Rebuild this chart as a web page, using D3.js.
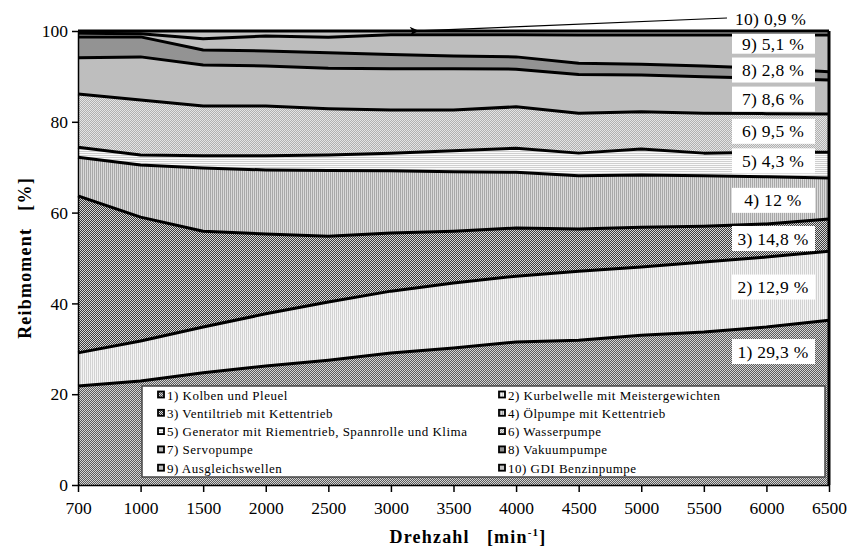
<!DOCTYPE html>
<meta charset="utf-8">
<style>
body { margin: 0; background: #fff; }
svg text { font-family: "Liberation Serif", "Times New Roman", "DejaVu Serif", serif; fill: #000; }
.axis text { font-size: 17.5px; }
.axis path, .axis line { stroke: #000; stroke-width: 1.5; }
.legend text { font-size: 13px; letter-spacing: 0.5px; }
.lbl text { font-size: 17.5px; letter-spacing: 0.3px; }
.title { font-size: 18px; font-weight: bold; letter-spacing: 1.2px; white-space: pre; }
</style>
<svg width="850" height="549"></svg>
<script src="https://d3js.org/d3.v7.min.js"></script>
<script>
// Drehzahl categories
var speeds = ["700", "1000", "1500", "2000", "2500", "3000", "3500", "4000", "4500", "5000", "5500", "6000", "6500"];

// share of friction torque per component [%]
var kolben      = [21.8, 22.9, 24.7, 26.2, 27.5, 29.1, 30.2, 31.5, 31.9, 33.0, 33.7, 34.8, 36.3];
var kurbelwelle = [7.3, 8.8, 10.1, 11.5, 12.8, 13.6, 14.3, 14.5, 15.2, 15.0, 15.4, 15.4, 15.2];
var ventiltrieb = [34.6, 27.3, 21.1, 17.6, 14.5, 12.8, 11.4, 10.6, 9.3, 8.8, 7.9, 7.3, 7.1];
var oelpumpe    = [8.5, 11.5, 13.9, 14.1, 14.5, 13.7, 13.1, 12.3, 11.7, 11.5, 11.1, 10.4, 9.0];
var generator   = [2.2, 2.2, 2.7, 3.1, 3.4, 3.9, 4.6, 5.3, 5.0, 5.7, 5.0, 5.4, 5.7];
var wasserpumpe = [11.7, 12.1, 11.0, 11.0, 10.2, 9.5, 9.0, 9.1, 8.8, 8.2, 8.8, 8.5, 8.4];
var servopumpe  = [8.0, 9.5, 9.0, 8.8, 8.9, 9.1, 9.1, 8.3, 8.5, 8.1, 8.0, 7.8, 7.5];
var vakuumpumpe = [4.6, 4.4, 3.3, 3.3, 3.4, 3.1, 2.8, 2.7, 2.5, 2.4, 2.4, 2.2, 1.8];
var ausgleich   = [0.8, 0.7, 2.5, 3.3, 3.4, 4.4, 4.7, 4.9, 6.2, 6.4, 6.8, 7.3, 8.1];
var gdi         = [0.5, 0.6, 1.7, 1.1, 1.4, 0.8, 0.8, 0.8, 0.9, 0.9, 0.9, 0.9, 0.9];

var legendNames = ["1) Kolben und Pleuel", "2) Kurbelwelle mit Meistergewichten",
  "3) Ventiltrieb mit Kettentrieb", "4) Ölpumpe mit Kettentrieb",
  "5) Generator mit Riementrieb, Spannrolle und Klima", "6) Wasserpumpe",
  "7) Servopumpe", "8) Vakuumpumpe", "9) Ausgleichswellen", "10) GDI Benzinpumpe"];
var shareLabels = ["1) 29,3 %", "2) 12,9 %", "3) 14,8 %", "4) 12 %", "5) 4,3 %",
  "6) 9,5 %", "7) 8,6 %", "8) 2,8 %", "9) 5,1 %"];
var labelPos = [29.4, 43.6, 54.3, 62.7, 71.4, 77.9, 85.0, 91.4, 97.2];
var yTicks = [0, 20, 40, 60, 80, 100];

var seriesValues = [kolben, kurbelwelle, ventiltrieb, oelpumpe, generator,
  wasserpumpe, servopumpe, vakuumpumpe, ausgleich, gdi];
var keys = d3.range(seriesValues.length).map(function(i) { return "s" + i; });
var rows = speeds.map(function(s, j) {
  var r = {speed: s};
  seriesValues.forEach(function(v, i) { r["s" + i] = v[j]; });
  return r;
});

var svg = d3.select("svg"),
    margin = {top: 31, right: 21, bottom: 64, left: 78},
    width = +svg.attr("width") - margin.left - margin.right,
    height = +svg.attr("height") - margin.top - margin.bottom;

// fill patterns
var defs = svg.append("defs");
function checker(id, a, b) {
  var p = defs.append("pattern").attr("id", id).attr("patternUnits", "userSpaceOnUse")
    .attr("width", 2).attr("height", 2);
  p.append("rect").attr("width", 2).attr("height", 2).attr("fill", b);
  p.append("rect").attr("width", 1).attr("height", 1).attr("fill", a);
  p.append("rect").attr("x", 1).attr("y", 1).attr("width", 1).attr("height", 1).attr("fill", a);
}
function stripes(id, a, b, vertical) {
  var p = defs.append("pattern").attr("id", id).attr("patternUnits", "userSpaceOnUse")
    .attr("width", vertical ? 2 : 1).attr("height", vertical ? 1 : 2);
  p.append("rect").attr("width", 2).attr("height", 2).attr("fill", b);
  p.append("rect").attr("width", 1).attr("height", 1).attr("fill", a);
}
checker("p1", "#5a5a5a", "#d4d4d4");
stripes("p2", "#d2d2d2", "#f4f4f4", true);
checker("p3", "#3c3c3c", "#d8d8d8");
stripes("p4", "#a8a8a8", "#dadada", true);
stripes("p5", "#cfcfcf", "#fafafa", false);
checker("p6", "#b0b0b0", "#e4e4e4");
var fills = ["url(#p1)", "url(#p2)", "url(#p3)", "url(#p4)", "url(#p5)", "url(#p6)",
  "#bebebe", "#939393", "#bebebe", "#c4c4c4"];

var x = d3.scalePoint().domain(speeds).range([0, width]),
    y = d3.scaleLinear().domain([0, 100]).range([height, 0]);

var g = svg.append("g")
    .attr("transform", "translate(" + margin.left + "," + margin.top + ")");

var stacked = d3.stack().keys(keys)(rows);

var area = d3.area()
    .x(function(d) { return x(d.data.speed); })
    .y0(function(d) { return y(d[0]); })
    .y1(function(d) { return y(d[1]); });
var line = d3.line()
    .x(function(d) { return x(d.data.speed); })
    .y(function(d) { return y(d[1]); });

g.selectAll(".layer")
  .data(stacked)
  .enter().append("path")
    .attr("class", "layer")
    .attr("fill", function(d, i) { return fills[i]; })
    .attr("d", area);

g.selectAll(".edge")
  .data(stacked)
  .enter().append("path")
    .attr("class", "edge")
    .attr("fill", "none")
    .attr("stroke", "#000")
    .attr("stroke-width", 3)
    .attr("stroke-linejoin", "round")
    .attr("d", line);

// right frame
g.append("line")
    .attr("x1", width).attr("x2", width)
    .attr("y1", y(100)).attr("y2", y(0))
    .attr("stroke", "#000").attr("stroke-width", 3);

// axes
g.append("g")
    .attr("class", "axis axis--x")
    .attr("transform", "translate(0," + height + ")")
    .call(d3.axisBottom(x).tickSize(7).tickSizeOuter(0).tickPadding(10));
g.append("g")
    .attr("class", "axis axis--y")
    .call(d3.axisLeft(y).tickValues(yTicks).tickSize(6).tickSizeOuter(0).tickPadding(4));
g.selectAll(".axis").attr("font-family", null).attr("font-size", null);
g.selectAll(".axis .domain").attr("stroke-width", 2.5);

// share labels on the right
var lbl = g.append("g").attr("class", "lbl");
shareLabels.forEach(function(t, i) {
  var h = i === 8 ? 20 : 25;
  lbl.append("rect")
      .attr("x", 654).attr("y", y(labelPos[i]) - h / 2)
      .attr("width", 83).attr("height", h)
      .attr("fill", "#fff");
  lbl.append("text")
      .attr("x", 695).attr("y", y(labelPos[i]))
      .attr("dy", "0.35em")
      .attr("text-anchor", "middle")
      .text(t);
});

// label 10 with arrow
defs.append("marker").attr("id", "arrow")
    .attr("viewBox", "0 0 10 10").attr("refX", 1).attr("refY", 5)
    .attr("markerWidth", 12).attr("markerHeight", 9).attr("orient", "auto")
    .attr("markerUnits", "userSpaceOnUse")
  .append("path").attr("d", "M10,0 L0,5 L10,10 L7,5 Z").attr("fill", "#000");
g.append("line")
    .attr("x1", 649).attr("y1", -13)
    .attr("x2", x("3000") + 27).attr("y2", y(99.8) - 1)
    .attr("stroke", "#000").attr("stroke-width", 1.2)
    .attr("marker-end", "url(#arrow)");
lbl.append("text")
    .attr("x", 657).attr("y", -12)
    .attr("dy", "0.35em")
    .text("10) 0,9 %");

// legend
var leg = g.append("g").attr("class", "legend");
leg.append("rect")
    .attr("x", 64).attr("y", 355)
    .attr("width", 683).attr("height", 91)
    .attr("fill", "#fff").attr("stroke", "#444").attr("stroke-width", 1.5);
legendNames.forEach(function(name, i) {
  var col = i % 2, row = Math.floor(i / 2);
  var lx = col === 0 ? 80 : 421, ly = 364 + row * 18.3;
  leg.append("rect")
      .attr("x", lx).attr("y", ly - 3.5)
      .attr("width", 6).attr("height", 6)
      .attr("fill", fills[i]).attr("stroke", "#000").attr("stroke-width", 1.8);
  leg.append("text")
      .attr("x", lx + 9).attr("y", ly)
      .attr("dy", "0.35em")
      .text(name);
});

// axis titles
svg.append("text")
    .attr("class", "title")
    .attr("transform", "translate(31," + (margin.top + height / 2) + ") rotate(-90)")
    .attr("text-anchor", "middle")
    .text("Reibmoment   [%]");
var xt = svg.append("text")
    .attr("class", "title")
    .attr("x", 468).attr("y", 543)
    .attr("text-anchor", "middle");
xt.append("tspan").text("Drehzahl   [min");
xt.append("tspan").attr("dy", -7).attr("font-size", "11px").text("-1");
xt.append("tspan").attr("dy", 7).text("]");
</script>
